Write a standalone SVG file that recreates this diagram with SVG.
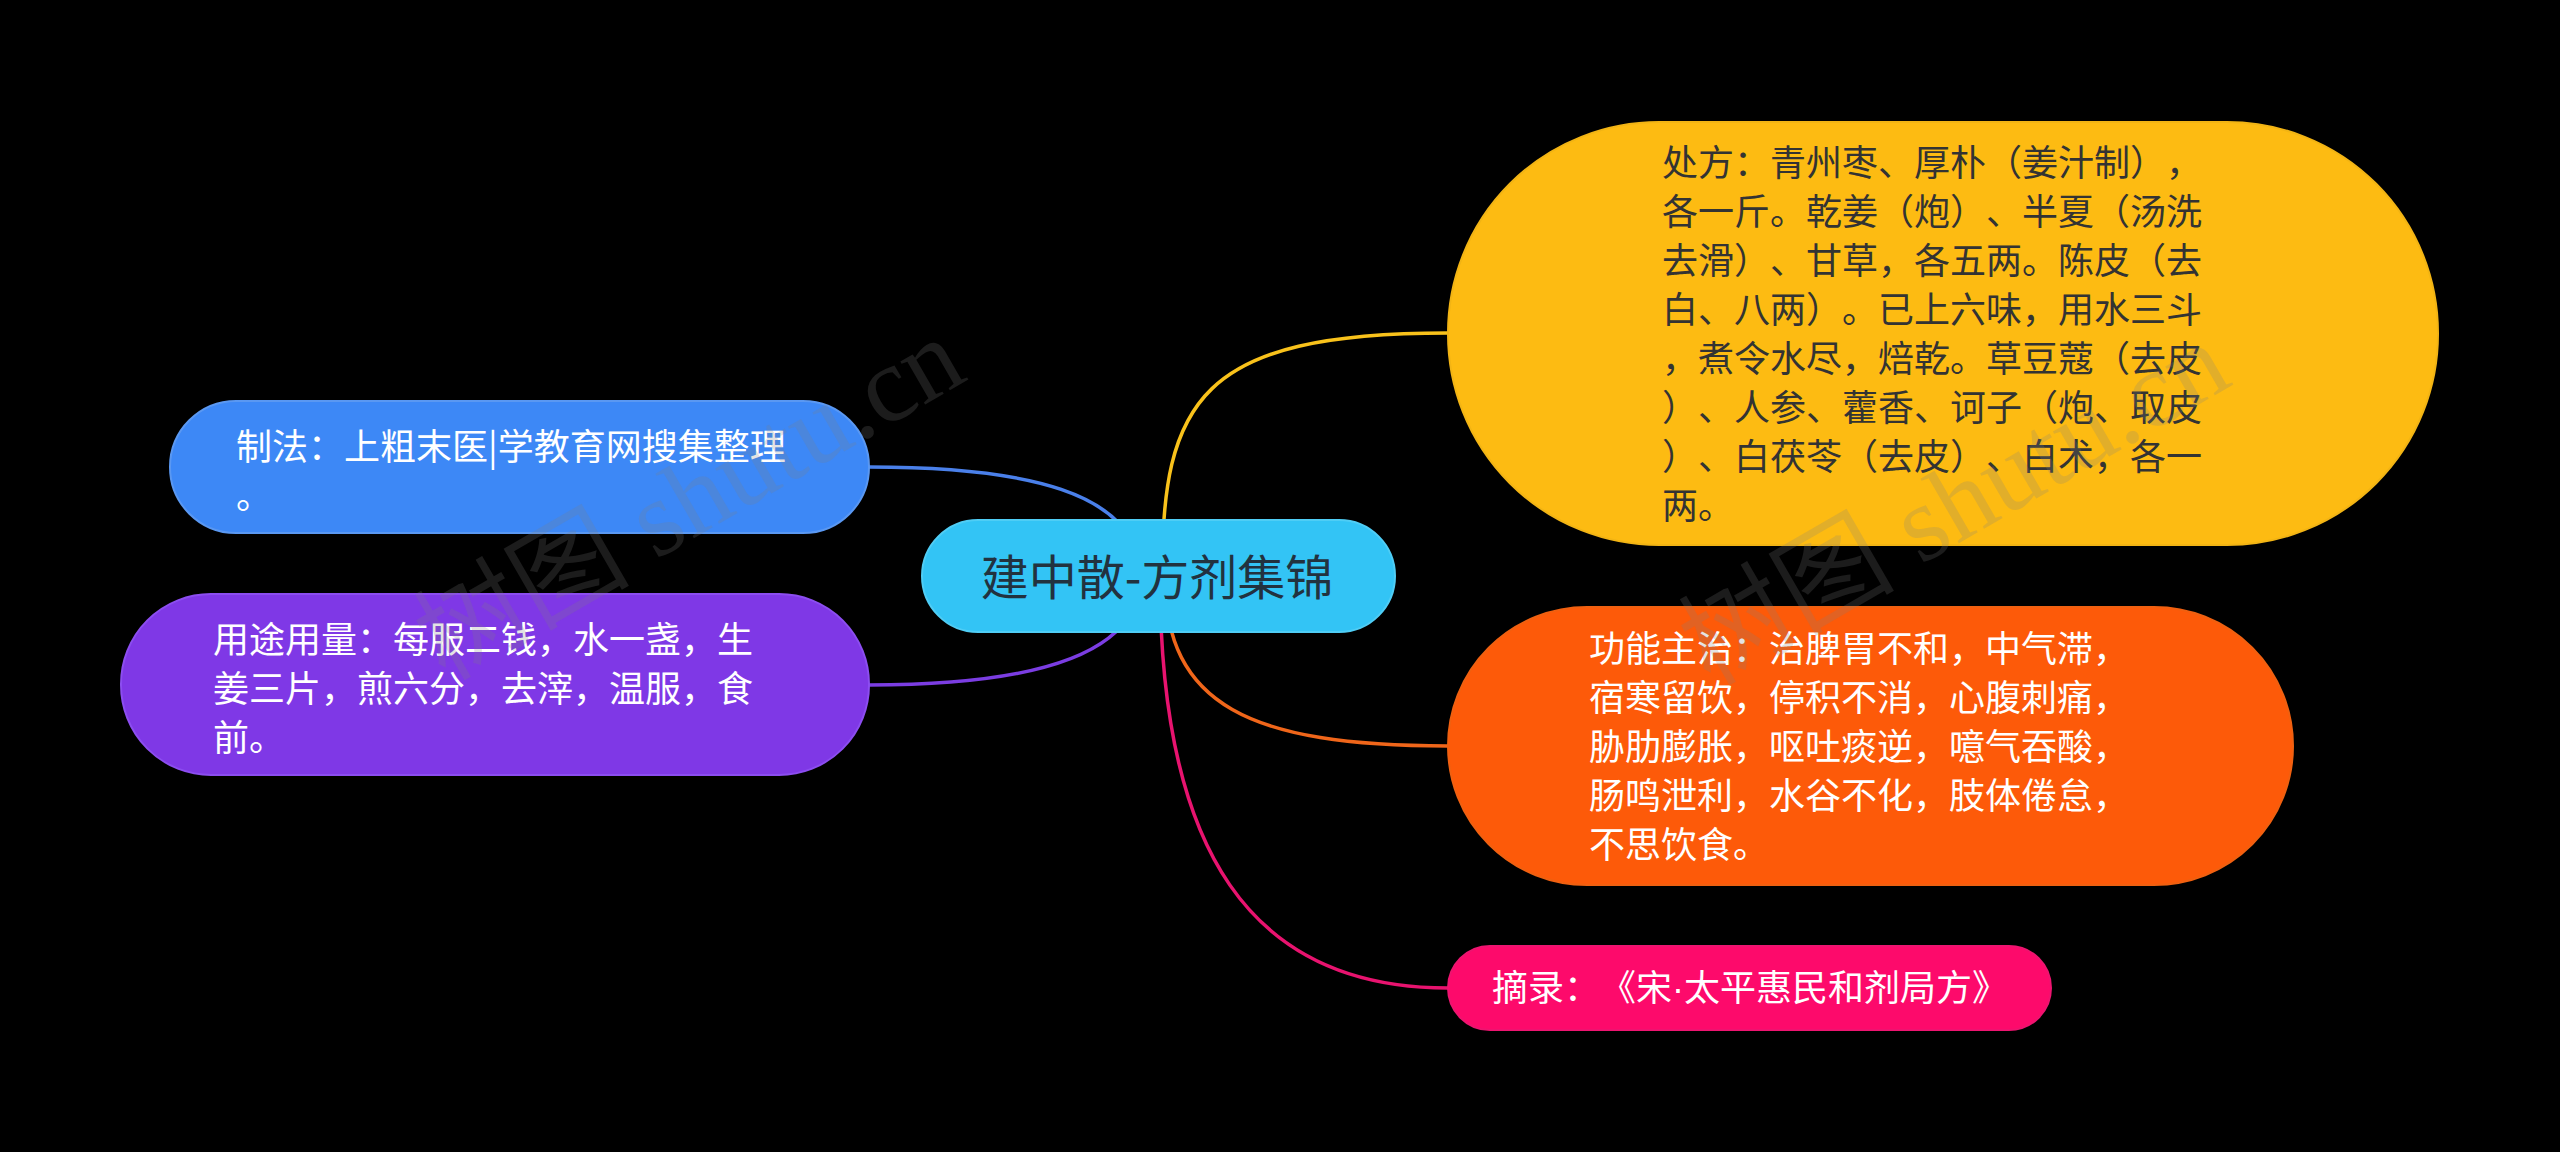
<svg xmlns="http://www.w3.org/2000/svg" width="2560" height="1152" viewBox="0 0 2560 1152">
<style>
.t{font-family:"Noto Sans CJK SC","Noto Sans",sans-serif;font-size:36px;fill:#ffffff;text-spacing-trim:space-all;font-feature-settings:"halt" 0,"chws" 0}
.dk{fill:#333333}
.dot{font-family:"Liberation Sans","Noto Sans",sans-serif}
.c{fill:none;stroke-width:3.5;stroke-linecap:round}
.wm{font-family:"Liberation Serif","DejaVu Serif","Noto Sans CJK SC",serif;font-size:108px;fill:#808080;fill-opacity:0.22}
</style>
<rect x="0" y="0" width="2560" height="1152" fill="#000000"/>
<g id="connectors">
<path class="c" stroke="#f9c21b" d="M1162,577 C1162,400 1200,333 1448,333"/>
<path class="c" stroke="#f0661a" d="M1165,577 C1165,705 1250,746 1448,746"/>
<path class="c" stroke="#e8136f" d="M1160,577 C1160,850 1250,988 1448,988"/>
<path class="c" stroke="#4a80ea" d="M1140,577 C1140,490 1020,467 869,467"/>
<path class="c" stroke="#7b3de2" d="M1140,577 C1140,660 1020,685 869,685"/>
</g>
<g id="root">
<rect x="922" y="520" width="473" height="112" rx="56" fill="#33c4f5" stroke="#4fcdf5" stroke-width="2"/>
<text class="t" x="1157" y="595" text-anchor="middle" style="font-size:48px;fill:#22323f">建中散-方剂集锦</text>
</g>
<g id="node-chufang">
<rect x="1448" y="122" width="990" height="423" rx="211" fill="#fdbb12" stroke="#f2b414" stroke-width="2"/>
<text class="t dk" x="1662">
<tspan x="1662" y="176">处方：青州枣、厚朴（姜汁制），</tspan>
<tspan x="1662" y="225">各一斤。乾姜（炮）、半夏（汤洗</tspan>
<tspan x="1662" y="274">去滑）、甘草，各五两。陈皮（去</tspan>
<tspan x="1662" y="323">白、八两）。已上六味，用水三斗</tspan>
<tspan x="1662" y="372">，煮令水尽，焙乾。草豆蔻（去皮</tspan>
<tspan x="1662" y="421">）、人参、藿香、诃子（炮、取皮</tspan>
<tspan x="1662" y="470">）、白茯苓（去皮）、白术，各一</tspan>
<tspan x="1662" y="519">两。</tspan>
</text>
</g>
<g id="node-gongneng">
<rect x="1448" y="607" width="845" height="278" rx="139" fill="#fd5a09" stroke="#f06010" stroke-width="2"/>
<text class="t">
<tspan x="1589" y="662">功能主治：治脾胃不和，中气滞，</tspan>
<tspan x="1589" y="711">宿寒留饮，停积不消，心腹刺痛，</tspan>
<tspan x="1589" y="760">胁肋膨胀，呕吐痰逆，噫气吞酸，</tspan>
<tspan x="1589" y="809">肠鸣泄利，水谷不化，肢体倦怠，</tspan>
<tspan x="1589" y="858">不思饮食。</tspan>
</text>
</g>
<g id="node-zhailu">
<rect x="1448" y="946" width="603" height="84" rx="42" fill="#fd0a6b" stroke="#ee1470" stroke-width="2"/>
<text class="t" x="1492" y="1001">摘录：《宋<tspan class="dot">·</tspan>太平惠民和剂局方》</text>
</g>
<g id="node-zhifa">
<rect x="170" y="401" width="699" height="132" rx="66" fill="#3d88f6" stroke="#5a98f2" stroke-width="2"/>
<text class="t">
<tspan x="236" y="460">制法：上粗末医|学教育网搜集整理</tspan>
<tspan x="236" y="509">。</tspan>
</text>
</g>
<g id="node-yongtu">
<rect x="121" y="594" width="748" height="181" rx="90" fill="#7f38e6" stroke="#8c4df0" stroke-width="2"/>
<text class="t">
<tspan x="213" y="653">用途用量：每服二钱，水一盏，生</tspan>
<tspan x="213" y="702">姜三片，煎六分，去滓，温服，食</tspan>
<tspan x="213" y="751">前。</tspan>
</text>
</g>
<g id="watermarks">
<text class="wm" x="690" y="535" text-anchor="middle" transform="rotate(-30 690 500)">树图 shutu.cn</text>
<text class="wm" x="1955" y="540" text-anchor="middle" transform="rotate(-30 1955 505)">树图 shutu.cn</text>
</g>
</svg>
